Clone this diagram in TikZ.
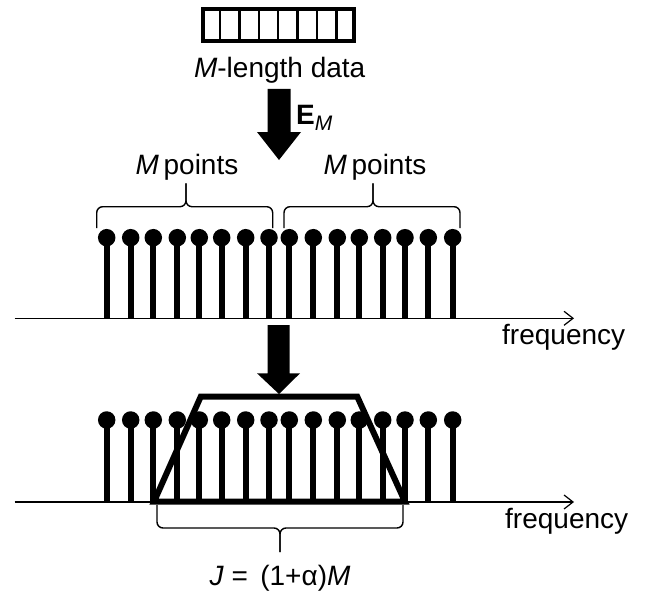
\documentclass[tikz,border=0pt]{standalone}
\usepackage{fontspec}
\setmainfont{Liberation Sans}
\usetikzlibrary{arrows.meta,calc}
\begin{document}
\begin{tikzpicture}[x=1pt,y=-1pt,
  lbl/.style={inner sep=0pt,font=\fontsize{28}{32}\selectfont},
  stem/.style={line width=6pt},
  ball/.style={fill=black,circle,inner sep=0pt,minimum size=17.5pt},
  axis/.style={line width=1.4pt,-{Straight Barb[length=9pt,width=14pt,line width=1.2pt]}},
  brc/.style={line width=1.4pt,rounded corners=6pt},
  bigarrow/.style={fill=black},
  trap/.style={line width=6pt,line join=miter}]
\useasboundingbox (0,0) rectangle (659,594);
% data block
\node[draw,line width=4pt,minimum width=151pt,minimum height=31.5pt,inner sep=0pt] (data) at (278.2,25) {};
\foreach \i in {1,...,7}{\draw[line width=2.5pt] ($(data.north west)!\i/8!(data.north east)$) -- ($(data.south west)!\i/8!(data.south east)$);}
\node[lbl] (dlabel) at (279.7,70) {\textit{M}-length data};
% top arrow
\coordinate (a1top) at (279,89);
\coordinate (a1tip) at (279,160);
\fill[bigarrow] (267.5,89) -- (290.5,89) -- (290.5,132) -- (301,132) -- (a1tip) -- (257,132) -- (267.5,132) -- cycle;
\node[lbl,anchor=west] (em) at (296,118) {\textbf{E}\raisebox{-0.22em}{\fontsize{21}{21}\selectfont\itshape M}};
% top labels
\node[lbl] (mp1) at (187,167) {\textit{M}\,points};
\node[lbl] (mp2) at (375,167) {\textit{M}\,points};
% top braces
\draw[brc] (96.7,228) -- (96.7,206.7) -- (186,206.7) -- (186,183.3);
\draw[brc] (272.7,228) -- (272.7,206.7) -- (186,206.7) -- (186,183.3);
\draw[brc] (284,228) -- (284,206.7) -- (373,206.7) -- (373,183.3);
\draw[brc] (460,228) -- (460,206.7) -- (373,206.7) -- (373,183.3);
% axes
\coordinate (ax1s) at (14.5,318.3);
\coordinate (ax1e) at (574,318.3);
\coordinate (ax2s) at (14.5,502);
\coordinate (ax2e) at (574,502);
\draw[axis] (ax1s) -- (ax1e);
\draw[axis] (ax2s) -- (ax2e);
\node[lbl,anchor=west] (f1) at (502,337) {frequency};
\node[lbl,anchor=west] (f2) at (505,521.5) {frequency};
% stems
\foreach \x [count=\k] in {106.7,130.7,153.3,177.3,199.3,221.7,245.7,269,289.3,313.3,337.3,359.3,382.7,405,428.3,452.7}{
  \draw[stem] (\x,318.3) -- (\x,237.7);
  \node[ball] (t\k) at (\x,237.7) {};
  \draw[stem] (\x,502) -- (\x,420);
  \node[ball] (b\k) at (\x,420) {};
}
% bottom arrow
\coordinate (a2tip) at (279,394);
\fill[bigarrow] (267.5,325) -- (289.5,325) -- (289.5,373.3) -- (300,373.3) -- (a2tip) -- (257,373.3) -- (267.5,373.3) -- cycle;
% trapezoid
\draw[trap] (154,501.7) -- (200.7,396.7) -- (357.3,396.7) -- (405,501.7) -- cycle;
% bottom brace
\draw[brc] (157,505) -- (157,528) -- (280,528) -- (280,552);
\draw[brc] (403,505) -- (403,528) -- (280,528) -- (280,552);
\node[lbl] (jl) at (280,578) {\textit{J} =\, (1+α)\textit{M}};
\end{tikzpicture}
\end{document}
